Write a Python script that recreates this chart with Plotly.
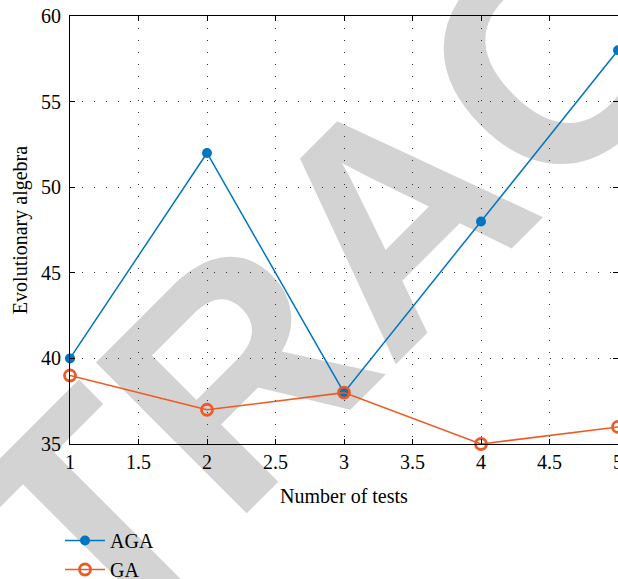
import plotly.graph_objects as go

tests = [1, 2, 3, 4, 5]
aga = [40, 52, 38, 48, 58]
ga = [39, 37, 38, 35, 36]
x_ticks = [1, 1.5, 2, 2.5, 3, 3.5, 4, 4.5, 5]
x_tick_text = ["1", "1.5", "2", "2.5", "3", "3.5", "4", "4.5", "5"]
y_ticks = [35, 40, 45, 50, 55, 60]

BLUE = "#0076C2"
ORANGE = "#EE5A24"
FONT = "Liberation Serif"

W, H = 618, 579
ML, MR, MT, MB = 70, 0, 16, 135
PW, PH = W - ML - MR, H - MT - MB


def px_to_paper(px, py):
    return (px - ML) / PW, (H - MB - py) / PH


fig = go.Figure()
fig.add_trace(go.Scatter(
    x=tests, y=aga, name="AGA", mode="lines+markers",
    line=dict(color=BLUE, width=1.5),
    marker=dict(symbol="circle", size=10, color=BLUE),
    cliponaxis=False,
))
fig.add_trace(go.Scatter(
    x=tests, y=ga, name="GA", mode="lines+markers",
    line=dict(color=ORANGE, width=1.5),
    marker=dict(symbol="circle-open", size=11, color=ORANGE, line=dict(width=2.8)),
    cliponaxis=False,
))

# watermark behind everything
cx, cy = px_to_paper(373, 194)
fig.add_shape(
    type="rect", xref="paper", yref="paper",
    x0=cx - 0.01, x1=cx + 0.01, y0=cy - 0.01, y1=cy + 0.01,
    line=dict(width=0), fillcolor="rgba(0,0,0,0)", layer="below",
    label=dict(text="RETRACTED", textangle=-45, textposition="middle center",
               font=dict(size=310, color="#d3d3d3", family="Liberation Sans", weight="bold")),
)

axis_common = dict(
    showline=True, linecolor="black", linewidth=1, mirror="ticks",
    ticks="inside", ticklen=5, tickcolor="black", tickwidth=1,
    showgrid=True, gridcolor="#333333", gridwidth=1, griddash="1px,11px",
    zeroline=False, automargin=False, ticklabeloverflow="allow",
    tickfont=dict(family=FONT, size=20, color="black"),
)

fig.update_xaxes(
    range=[1, 5], tickvals=x_ticks, ticktext=x_tick_text,
    title=dict(text="Number of tests", font=dict(family=FONT, size=20, color="black"), standoff=16),
    **axis_common,
)
fig.update_yaxes(
    range=[35, 60], tickvals=y_ticks,
    title=dict(text="Evolutionary algebra", font=dict(family=FONT, size=20, color="black"), standoff=8),
    ticklabelstandoff=4,
    **axis_common,
)

lx, ly = px_to_paper(60, 521)
fig.update_layout(
    width=W, height=H, autosize=False,
    margin=dict(l=ML, r=MR, t=MT, b=MB, pad=0, autoexpand=False),
    paper_bgcolor="white", plot_bgcolor="white",
    font=dict(family=FONT, color="black"),
    legend=dict(x=lx, y=ly, xanchor="left", yanchor="top", bgcolor="rgba(0,0,0,0)",
                itemwidth=40,
                font=dict(family=FONT, size=20, color="black")),
    showlegend=True,
)

fig.write_html("out.html", config={"displayModeBar": False},
               post_script="document.body.style.margin='0';document.body.style.overflow='hidden';")
